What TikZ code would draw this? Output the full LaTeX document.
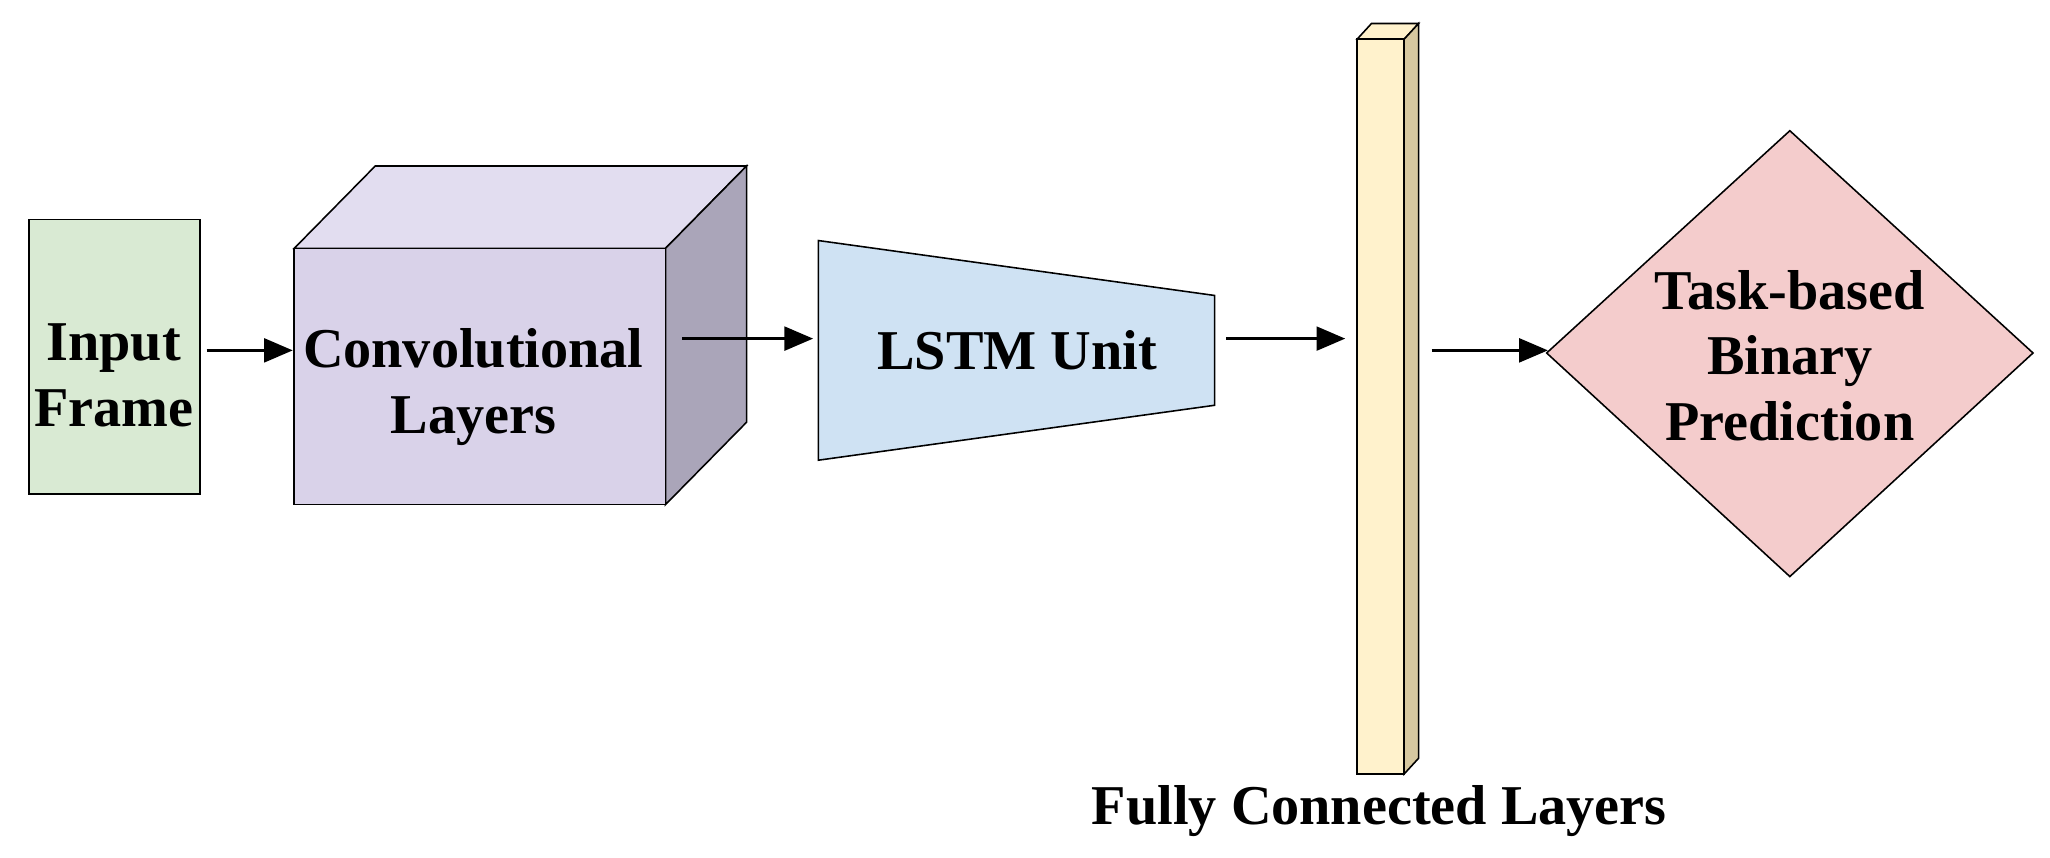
\documentclass[tikz,border=0pt]{standalone}
\usepackage{fontspec}
\setmainfont{Liberation Serif}
\usetikzlibrary{arrows.meta}
\definecolor{cin}{RGB}{217,234,211}
\definecolor{cfront}{RGB}{217,210,233}
\definecolor{ctop}{RGB}{226,221,240}
\definecolor{cside}{RGB}{170,165,185}
\definecolor{clstm}{RGB}{207,226,243}
\definecolor{cfc}{RGB}{255,242,204}
\definecolor{cfcside}{RGB}{214,200,160}
\definecolor{cpred}{RGB}{244,204,204}
\begin{document}
\begin{tikzpicture}[x=0.5pt,y=-0.5pt,
    font=\bfseries\fontsize{21.5}{25}\selectfont,
    box/.style={draw=black, line width=0.6pt},
    arr/.style={line width=1.4pt,-{Triangle[length=11pt,width=9pt]}},
    txt/.style={align=center, inner sep=0pt}
]
\useasboundingbox (0,0) rectangle (1568,656);
% input frame
\draw[box, fill=cin] (22,168) rectangle (153,378);
\node[txt] (in) at (87,287) {Input\\Frame};
% cube
\draw[box, fill=ctop] (225,190) -- (287,127) -- (571,127) -- (509,190) -- cycle;
\draw[box, fill=cside] (509,190) -- (571,127) -- (571,323) -- (509,386) -- cycle;
\draw[box, fill=cfront] (225,190) rectangle (509,386);
\node[txt] (conv) at (362,296) {Convolutional\\Layers};
% lstm
\draw[box, fill=clstm] (626,184) -- (929,226) -- (929,310) -- (626,352) -- cycle;
\node[txt] (lstm) at (778,268) {LSTM Unit};
% fully connected bar
\draw[box, fill=cfc] (1038,30) -- (1049,18) -- (1085,18) -- (1074,30) -- cycle;
\draw[box, fill=cfcside] (1074,30) -- (1085,18) -- (1085,580) -- (1074,592) -- cycle;
\draw[box, fill=cfc] (1038,30) rectangle (1074,592);
\node[txt] (fc) at (1055,620) {Fully Connected Layers};
% prediction
\draw[box, fill=cpred] (1183,270) -- (1369,100) -- (1555,270) -- (1369,441) -- cycle;
\node[txt] (pred) at (1369,272) {Task-based\\Binary\\Prediction};
% connectors
\coordinate (a1) at (158,268); \coordinate (a2) at (224,268);
\coordinate (b1) at (522,259); \coordinate (b2) at (622,259);
\coordinate (c1) at (938,259); \coordinate (c2) at (1029,259);
\coordinate (d1) at (1095,268); \coordinate (d2) at (1184,268);
\draw[arr] (a1) -- (a2);
\draw[arr] (b1) -- (b2);
\draw[arr] (c1) -- (c2);
\draw[arr] (d1) -- (d2);
\end{tikzpicture}
\end{document}
